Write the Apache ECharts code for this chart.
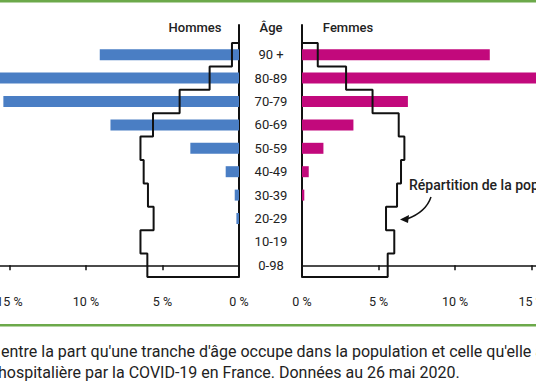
<!DOCTYPE html>
<html>
<head>
<meta charset="utf-8">
<script src="https://cdn.jsdelivr.net/npm/echarts@6/dist/echarts.min.js"></script>
<style>
html,body{margin:0;padding:0;background:#fff;}
#chart{width:536px;height:386px;}
</style>
</head>
<body>
<div id="chart"></div>
<script>
// Age groups, bottom to top
const categories = ['0-98','10-19','20-29','30-39','40-49','50-59','60-69','70-79','80-89','90 +'];
// Share of hospitalisations (%)
const hommesHosp = [0, 0, 0.17, 0.28, 0.87, 3.18, 8.4, 15.4, 17, 9.1];
const femmesHosp = [0, 0, 0, 0.15, 0.44, 1.4, 3.36, 6.92, 16, 12.27];
// Share of population (%)
const hommesPop = [5.99, 6.44, 5.58, 5.95, 6.23, 6.44, 5.62, 3.88, 1.92, 0.46];
const femmesPop = [5.60, 6.03, 5.49, 6.21, 6.47, 6.69, 6.32, 4.61, 2.88, 1.03];
const tickValues = [0, 5, 10, 15];

const FONT = 'Roboto';
const BLUE = '#4a7ec4';
const MAGENTA = '#c2097c';
const GREEN = '#6ca94a';

function stepData(pop) {
  const d = [[0, -0.5]];
  pop.forEach((p, i) => { d.push([p, i - 0.5]); d.push([p, i + 0.5]); });
  d.push([0, pop.length - 0.5]);
  return d;
}

const LEFT_MAX = 15.62, RIGHT_MAX = 15.29;
const Y_MAX = 10.27;

const chart = echarts.init(document.getElementById('chart'), null, {renderer: 'svg'});

const shownX = (gi, inverse, max) => ({
  type: 'value', gridIndex: gi, inverse: inverse, min: 0, max: max, interval: 5,
  offset: 8,
  axisLine: {show: true, lineStyle: {color: '#111', width: 1.5}},
  axisTick: {show: true, length: 5, lineStyle: {color: '#111', width: 1.5}},
  axisLabel: {show: true, formatter: '{value} %', color: '#222', fontFamily: FONT, fontSize: 12.5, margin: 10, showMaxLabel: false},
  splitLine: {show: false}
});
const hiddenX = (gi, inverse, max) => ({
  type: 'value', gridIndex: gi, inverse: inverse, min: 0, max: max, show: false
});
const g = (o) => Object.assign({outerBoundsMode: 'none', containLabel: false}, o);

chart.setOption({
  animation: false,
  textStyle: {fontFamily: FONT},
  grid: [
    g({left: 0, width: 239, top: 43, height: 234}),
    g({left: 0, width: 239, top: 25, height: 252}),
    g({left: 302, width: 234, top: 43, height: 234}),
    g({left: 302, width: 234, top: 25, height: 252})
  ],
  xAxis: [
    hiddenX(0, true, LEFT_MAX),
    shownX(1, true, LEFT_MAX),
    hiddenX(2, false, RIGHT_MAX),
    shownX(3, false, RIGHT_MAX)
  ],
  yAxis: [
    {type: 'category', gridIndex: 0, data: categories, show: false},
    {type: 'value', gridIndex: 1, min: -0.5, max: Y_MAX, position: 'right',
     axisLine: {show: true, lineStyle: {color: '#111', width: 2}},
     axisTick: {show: false}, axisLabel: {show: false}, splitLine: {show: false}},
    {type: 'category', gridIndex: 2, data: categories, position: 'left',
     axisLine: {show: false}, axisTick: {show: false},
     axisLabel: {show: true, margin: 31, align: 'center', color: '#222', fontFamily: FONT, fontSize: 13}},
    {type: 'value', gridIndex: 3, min: -0.5, max: Y_MAX, position: 'left',
     axisLine: {show: true, lineStyle: {color: '#111', width: 2}},
     axisTick: {show: false}, axisLabel: {show: false}, splitLine: {show: false}}
  ],
  series: [
    {type: 'bar', xAxisIndex: 0, yAxisIndex: 0, data: hommesHosp, barWidth: 11, itemStyle: {color: BLUE}, clip: true},
    {type: 'line', xAxisIndex: 1, yAxisIndex: 1, data: stepData(hommesPop), showSymbol: false,
     lineStyle: {color: '#111', width: 2}, z: 5},
    {type: 'bar', xAxisIndex: 2, yAxisIndex: 2, data: femmesHosp, barWidth: 11, itemStyle: {color: MAGENTA}, clip: true},
    {type: 'line', xAxisIndex: 3, yAxisIndex: 3, data: stepData(femmesPop), showSymbol: false,
     lineStyle: {color: '#111', width: 2}, z: 5}
  ],
  graphic: [
    {type: 'rect', shape: {x: 0, y: 0, width: 536, height: 2.5}, style: {fill: GREEN}},
    {type: 'rect', shape: {x: 0, y: 324, width: 536, height: 2.5}, style: {fill: GREEN}},
    {type: 'text', x: 195, y: 27, style: {text: 'Hommes', font: '500 13px Roboto', fill: '#222', textAlign: 'center', textVerticalAlign: 'middle'}},
    {type: 'text', x: 271, y: 27, style: {text: 'Âge', font: '500 13px Roboto', fill: '#222', textAlign: 'center', textVerticalAlign: 'middle'}},
    {type: 'text', x: 348, y: 27, style: {text: 'Femmes', font: '500 13px Roboto', fill: '#222', textAlign: 'center', textVerticalAlign: 'middle'}},
    {type: 'text', x: 409, y: 185, style: {text: 'Répartition de la population', font: '500 14px Roboto', fill: '#222', textAlign: 'left', textVerticalAlign: 'middle'}},
    {type: 'bezierCurve', shape: {x1: 431, y1: 197, x2: 407, y2: 219, cpx1: 426, cpy1: 212}, style: {stroke: '#111', lineWidth: 1.5, fill: null}},
    {type: 'polygon', shape: {points: [[400, 219.5], [409, 215], [408, 223]]}, style: {fill: '#111'}},
    {type: 'text', x: 1, y: 351, style: {text: "entre la part qu'une tranche d'âge occupe dans la population et celle qu'elle a dans la prise en charge", font: '16px Roboto', fill: '#222', textAlign: 'left', textVerticalAlign: 'middle'}},
    {type: 'text', x: -2, y: 372, style: {text: 'hospitalière par la COVID-19 en France. Données au 26 mai 2020.', font: '16px Roboto', fill: '#222', textAlign: 'left', textVerticalAlign: 'middle'}}
  ]
});
</script>
</body>
</html>
